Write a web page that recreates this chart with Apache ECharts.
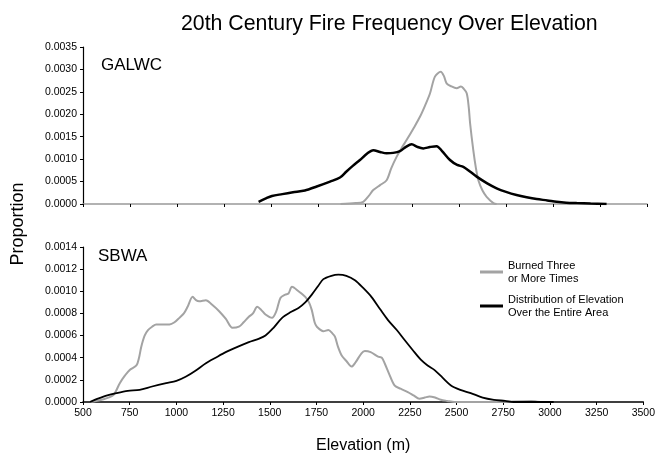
<!DOCTYPE html>
<html>
<head>
<meta charset="utf-8">
<script src="https://cdn.jsdelivr.net/npm/echarts@6/dist/echarts.min.js"></script>
<style>html,body{margin:0;padding:0;background:#fff}#c{width:658px;height:456px}</style>
</head>
<body>
<div id="c"></div>
<script>
// ---- Data ----
var xTicks = [500, 750, 1000, 1250, 1500, 1750, 2000, 2250, 2500, 2750, 3000, 3250, 3500];
var seriesNames = ["Burned Three or More Times", "Distribution of Elevation Over the Entire Area"];
var panelLabels = ["GALWC", "SBWA"];

var galwcBurnedElev = [1870, 1950, 1991, 2020, 2044, 2080, 2115, 2140, 2168, 2195, 2222, 2260, 2293, 2320, 2346, 2372, 2403, 2420, 2434, 2460, 2488, 2510, 2523, 2541, 2552, 2559, 2576, 2590, 2603, 2625, 2647, 2683, 2700];
var galwcBurnedVal = [0, 0.00002, 0.00005, 0.00018, 0.00031, 0.00042, 0.00053, 0.0008, 0.00105, 0.00125, 0.00143, 0.0017, 0.00195, 0.0022, 0.00247, 0.00284, 0.00295, 0.00285, 0.00269, 0.00262, 0.00258, 0.00262, 0.00258, 0.00247, 0.00215, 0.0018, 0.0012, 0.0008, 0.00053, 0.0003, 0.00016, 0.00002, 0];

var galwcDistElev = [1434, 1470, 1505, 1560, 1617, 1680, 1743, 1814, 1867, 1900, 1935, 1973, 2010, 2044, 2080, 2115, 2150, 2186, 2220, 2248, 2280, 2310, 2345, 2381, 2410, 2452, 2490, 2523, 2560, 2594, 2650, 2700, 2750, 2806, 2860, 2913, 2970, 3019, 3070, 3126, 3200, 3285];
var galwcDistVal = [0.00005, 0.00012, 0.00018, 0.00022, 0.00026, 0.0003, 0.00039, 0.0005, 0.00059, 0.00072, 0.00085, 0.00098, 0.00112, 0.0012, 0.00116, 0.00113, 0.00114, 0.00118, 0.00128, 0.00133, 0.00127, 0.00124, 0.00127, 0.00129, 0.00118, 0.00098, 0.00087, 0.00083, 0.00072, 0.00061, 0.00046, 0.00035, 0.00027, 0.0002, 0.00015, 0.00011, 0.00008, 0.00005, 0.00003, 0.00002, 0.00001, 0];

var sbwaBurnedElev = [537, 600, 661, 697, 725, 750, 786, 800, 812, 830, 848, 870, 892, 930, 963, 990, 1016, 1040, 1060, 1087, 1105, 1122, 1158, 1190, 1229, 1265, 1300, 1335, 1360, 1388, 1410, 1433, 1455, 1477, 1512, 1535, 1557, 1583, 1600, 1619, 1654, 1690, 1710, 1725, 1740, 1752, 1787, 1814, 1835, 1849, 1865, 1885, 1910, 1938, 1960, 1991, 2009, 2040, 2080, 2100, 2115, 2140, 2168, 2200, 2239, 2270, 2301, 2330, 2355, 2385, 2416, 2450, 2488, 2700, 2900, 2950];
var sbwaBurnedVal = [0, 0.00002, 0.00006, 0.00017, 0.00024, 0.00029, 0.00033, 0.0004, 0.0005, 0.0006, 0.00065, 0.00068, 0.0007, 0.0007, 0.0007, 0.00072, 0.00076, 0.0008, 0.00086, 0.00095, 0.00092, 0.00091, 0.00092, 0.00088, 0.00082, 0.00075, 0.00067, 0.00068, 0.00072, 0.00077, 0.0008, 0.00086, 0.00083, 0.00079, 0.00076, 0.00082, 0.00094, 0.00097, 0.00098, 0.00104, 0.001, 0.00095, 0.0009, 0.00083, 0.00072, 0.00068, 0.00064, 0.00065, 0.00062, 0.00059, 0.0005, 0.00042, 0.00037, 0.00032, 0.00036, 0.00044, 0.00046, 0.00045, 0.00041, 0.0004, 0.00035, 0.00025, 0.00015, 0.00012, 0.00009, 0.00006, 0.00003, 0.00004, 0.00005, 0.00004, 0.00002, 0.00001, 0, 0, 0.00001, 0];

var sbwaDistElev = [537, 580, 630, 679, 740, 803, 870, 945, 1000, 1052, 1100, 1158, 1210, 1264, 1330, 1388, 1440, 1477, 1520, 1566, 1610, 1654, 1690, 1725, 1760, 1787, 1830, 1867, 1910, 1956, 2000, 2044, 2090, 2133, 2180, 2222, 2265, 2310, 2345, 2381, 2425, 2470, 2520, 2576, 2640, 2700, 2760, 2806, 3020];
var sbwaDistVal = [0, 0.00003, 0.00006, 0.00008, 0.0001, 0.00011, 0.00014, 0.00017, 0.00019, 0.00023, 0.00028, 0.00035, 0.0004, 0.00045, 0.0005, 0.00054, 0.00057, 0.0006, 0.00067, 0.00076, 0.00081, 0.00085, 0.0009, 0.00097, 0.00105, 0.00111, 0.00114, 0.00115, 0.00114, 0.0011, 0.00103, 0.00095, 0.00084, 0.00074, 0.00065, 0.00056, 0.00047, 0.00038, 0.00033, 0.00029, 0.00022, 0.00015, 0.00011, 0.00008, 0.00004, 0.00002, 0.00001, 0, 0];

// ---- Build ----
function zip(a, b) { return a.map(function (v, i) { return [v, b[i]]; }); }
var FONT = '"Liberation Sans", Arial, sans-serif';
var GRAY = '#a3a3a3';

var chart = echarts.init(document.getElementById('c'), null, { renderer: 'canvas' });

function xAxisCfg(gridIndex, showLabels, lineColor) {
  return {
    type: 'value', gridIndex: gridIndex, min: xTicks[0], max: xTicks[xTicks.length - 1], interval: 250,
    axisLine: { show: true, lineStyle: { color: lineColor, width: 1.5 } },
    axisTick: { show: true, length: 3, lineStyle: { color: '#000' } },
    axisLabel: { show: showLabels, fontFamily: FONT, fontSize: 10.5, color: '#000', margin: 6,
      formatter: function (v) { return String(v); } },
    splitLine: { show: false },
    name: showLabels ? 'Elevation (m)' : '', nameLocation: 'middle', nameGap: 36,
    nameTextStyle: { fontFamily: FONT, fontSize: 16, color: '#000' }
  };
}
function yAxisCfg(gridIndex, max, interval) {
  return {
    type: 'value', gridIndex: gridIndex, min: 0, max: max, interval: interval,
    axisLine: { show: true, lineStyle: { color: '#000', width: 1.2 } },
    axisTick: { show: true, length: 3, lineStyle: { color: '#000' } },
    axisLabel: { fontFamily: FONT, fontSize: 10.5, color: '#000', margin: 6,
      formatter: function (v) { return v.toFixed(4); } },
    splitLine: { show: false }
  };
}

var option = {
  backgroundColor: '#fff',
  animation: false,
  title: {
    text: '20th Century Fire Frequency Over Elevation', left: 176, top: 9,
    textStyle: { fontFamily: FONT, fontSize: 21.3, fontWeight: 'normal', color: '#000' }
  },
  legend: {
    data: seriesNames, orient: 'vertical', left: 475, top: 254,
    itemWidth: 23, itemHeight: 3, itemGap: 8, icon: 'rect',
    textStyle: { fontFamily: FONT, fontSize: 11, lineHeight: 13, color: '#000' },
    formatter: function (n) {
      return n === seriesNames[0] ? 'Burned Three\nor More Times' : 'Distribution of Elevation\nOver the Entire Area';
    },
    selectedMode: false
  },
  grid: [
    { left: 83, right: 11, top: 47, height: 157 },
    { left: 83, right: 11, top: 247, height: 155 }
  ],
  xAxis: [xAxisCfg(0, false, '#999'), xAxisCfg(1, true, '#000')],
  yAxis: [yAxisCfg(0, 0.0035, 0.0005), yAxisCfg(1, 0.0014, 0.0002)],
  graphic: [
    { type: 'text', x: 101, y: 65, style: { text: panelLabels[0], font: '17px ' + FONT, fill: '#000', verticalAlign: 'middle' } },
    { type: 'text', x: 98, y: 256, style: { text: panelLabels[1], font: '17px ' + FONT, fill: '#000', verticalAlign: 'middle' } },
    { type: 'text', x: 18, y: 224, rotation: Math.PI / 2,
      style: { text: 'Proportion', font: '18px ' + FONT, fill: '#000', align: 'center', verticalAlign: 'middle' } }
  ],
  series: [
    { name: seriesNames[0], type: 'line', xAxisIndex: 0, yAxisIndex: 0, showSymbol: false, smooth: 0.3,
      data: zip(galwcBurnedElev, galwcBurnedVal), lineStyle: { color: GRAY, width: 2 }, itemStyle: { color: GRAY } },
    { name: seriesNames[1], type: 'line', xAxisIndex: 0, yAxisIndex: 0, showSymbol: false, smooth: 0.3,
      data: zip(galwcDistElev, galwcDistVal), lineStyle: { color: '#000', width: 2.5 }, itemStyle: { color: '#000' } },
    { name: seriesNames[0], type: 'line', xAxisIndex: 1, yAxisIndex: 1, showSymbol: false, smooth: 0.3,
      data: zip(sbwaBurnedElev, sbwaBurnedVal), lineStyle: { color: GRAY, width: 2 }, itemStyle: { color: GRAY } },
    { name: seriesNames[1], type: 'line', xAxisIndex: 1, yAxisIndex: 1, showSymbol: false, smooth: 0.3,
      data: zip(sbwaDistElev, sbwaDistVal), lineStyle: { color: '#000', width: 1.8 }, itemStyle: { color: '#000' } }
  ]
};
chart.setOption(option);
</script>
</body>
</html>
